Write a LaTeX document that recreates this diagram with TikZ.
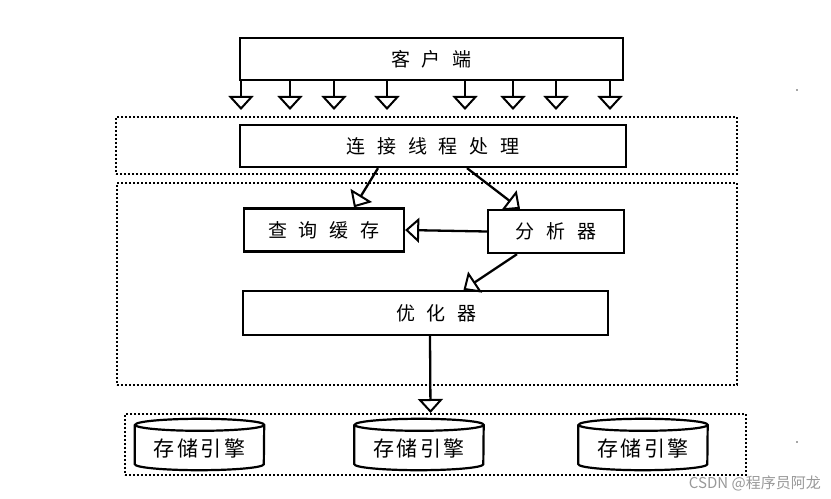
\documentclass[tikz,border=0pt]{standalone}
\usepackage{fontspec}
\newfontfamily\cjk[LetterSpace=63]{Noto Sans CJK SC}
\newfontfamily\cjkst[LetterSpace=12]{Noto Sans CJK SC}
\newfontfamily\cjkwm{Noto Sans CJK SC}
\usetikzlibrary{arrows.meta}
\begin{document}
\begin{tikzpicture}[x=1bp,y=-1bp,
  box/.style={draw=black,line width=2.3bp,rectangle,inner sep=0pt,font=\cjk\fontsize{19bp}{21bp}\selectfont},
  frame/.style={draw=black,line width=2bp,dash pattern=on 2bp off 2bp,rectangle,inner sep=0pt},
  arr/.style={draw=black,line width=2.3bp,-{Triangle[length=14bp,width=25bp,fill=white,line width=2bp]}},
  stor/.style={rectangle,inner sep=0pt,minimum width=129bp,minimum height=51bp},
  cyl/.style={draw=black,line width=2.2bp}
]
\useasboundingbox (0,0) rectangle (831,499);
\fill[white] (0,0) rectangle (831,499);

% frames
\node[frame,minimum width=621bp,minimum height=57bp] (f1) at (426.5,145.5) {};
\node[frame,minimum width=620bp,minimum height=202bp] (f2) at (427,284) {};
\node[frame,minimum width=621bp,minimum height=61bp] (f3) at (435.5,444.5) {};

% boxes
\node[box,minimum width=383bp,minimum height=42bp] (client) at (431.5,59) {客户端};
\node[box,minimum width=386bp,minimum height=42bp] (conn) at (433,146) {连接线程处理};
\node[box,minimum width=160bp,minimum height=43bp] (cache) at (324,230) {查询缓存};
\node[box,minimum width=136bp,minimum height=43bp] (parser) at (556,231.5) {分析器};
\node[box,minimum width=365bp,minimum height=44bp] (opt) at (425.5,313) {\hspace*{22bp}优化器};

% client arrows
\foreach \i/\x in {1/241,2/290,3/334,4/387,5/465,6/513,7/556,8/610}{
  \coordinate (t\i) at (\x,110);
  \draw[arr] (t\i |- client.south) -- (t\i);
}

% inner arrows
\draw[arr] ([xshift=-55bp]conn.south) -- ([xshift=30bp]cache.north);
\draw[arr] ([xshift=34bp]conn.south) -- ([xshift=-36bp]parser.north);
\draw[arr] (parser.west) -- (cache.east);
\draw[arr] ([xshift=-39bp]parser.south) -- ([xshift=38bp]opt.north);
\draw[arr] ([xshift=4.5bp]opt.south) -- ([xshift=-5bp]f3.north);

% storage engines
\foreach \n/\x in {s1/199.5,s2/419,s3/643}{
  \node[stor] (\n) at (\x,444.5) {};
  \draw[cyl] ([yshift=-6bp]\n.north west) -- ([yshift=6bp]\n.south west)
     arc[start angle=180,end angle=360,x radius=64.5bp,y radius=6bp]
     -- ([yshift=-6bp]\n.north east)
     arc[start angle=0,end angle=360,x radius=64.5bp,y radius=6bp];
  \node[font=\cjkst\fontsize{21bp}{23bp}\selectfont,inner sep=0pt] at ([yshift=-4bp]\n.center) {存储引擎};
}

% watermark and specks
\node[anchor=east,text=black!40,font=\cjkwm\fontsize{15bp}{17bp}\selectfont,inner sep=0pt] (wm) at (821,483) {CSDN @程序员阿龙};
\fill[black!70] (797,90) circle (0.9bp);
\fill[black!70] (797,442) circle (0.9bp);
\end{tikzpicture}
\end{document}
